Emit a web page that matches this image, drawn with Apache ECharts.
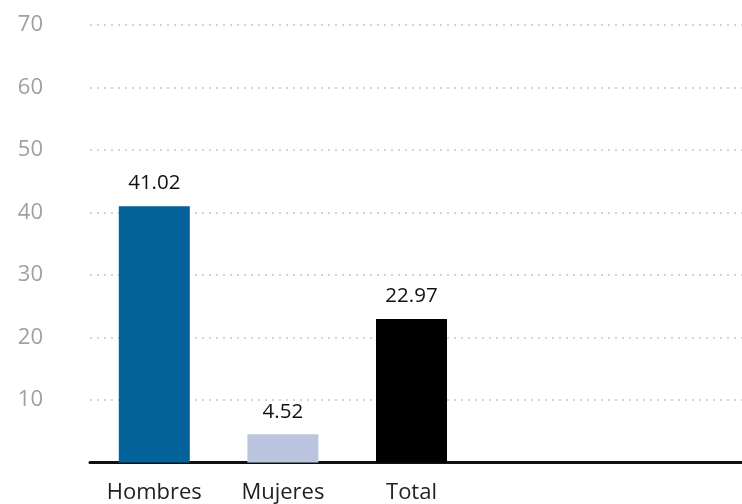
<!DOCTYPE html>
<html>
<head>
<meta charset="utf-8">
<script src="https://cdn.jsdelivr.net/npm/echarts@6/dist/echarts.min.js"></script>
<style>
html,body{margin:0;padding:0;background:#fff;}
#c{width:742px;height:504px;}
</style>
</head>
<body>
<div id="c"></div>
<script>
const categories = ['Hombres', 'Mujeres', 'Total'];
const values = [41.02, 4.52, 22.97];
const barColors = ['#03629a', '#bcc5df', '#000000'];
const yTicks = [0, 10, 20, 30, 40, 50, 60, 70];

const chart = echarts.init(document.getElementById('c'));
chart.setOption({
  animation: false,
  grid: { left: 90, right: 0, top: 25, bottom: 41.5 },
  xAxis: {
    type: 'value',
    min: -0.5, max: 4.57,
    splitLine: { show: false },
    axisLine: { show: true, onZero: false, lineStyle: { color: '#111', width: 3 } },
    axisTick: { show: false },
    axisLabel: {
      color: '#222', fontSize: 22, fontFamily: 'Open Sans', margin: 19,
      customValues: categories.map((c, i) => i),
      formatter: v => categories[Math.round(v)] || ''
    }
  },
  yAxis: {
    type: 'value',
    min: yTicks[0], max: yTicks[yTicks.length - 1], interval: 10,
    axisLine: { show: false },
    axisTick: { show: false },
    axisLabel: {
      color: '#a0a0a0', fontSize: 22, fontFamily: 'Open Sans', margin: 47,
      formatter: v => v === 0 ? '' : String(v)
    },
    splitLine: { lineStyle: { color: '#d4d4d4', width: 2, type: [2, 5] } }
  },
  series: [{
    type: 'bar',
    barWidth: 71,
    data: values.map((v, i) => ({ value: [i, v], itemStyle: { color: barColors[i] } })),
    label: {
      show: true, position: 'top', distance: 12,
      color: '#111', fontSize: 20.5, fontFamily: 'Open Sans',
      formatter: p => p.value[1].toFixed(2)
    }
  }]
});
</script>
</body>
</html>
